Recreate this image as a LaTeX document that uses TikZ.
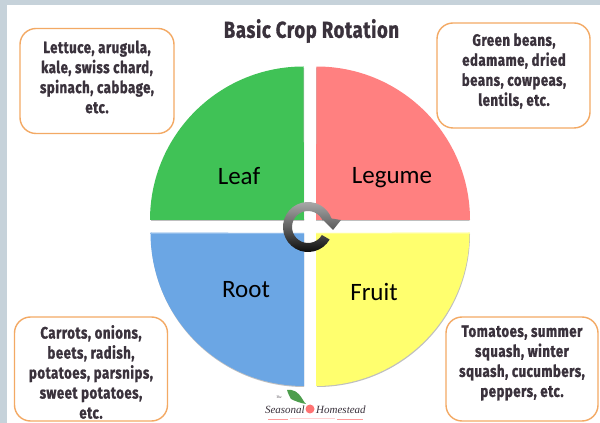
\documentclass[tikz,border=0pt]{standalone}
\usepackage{fontspec}
\setmainfont{Carlito}
\newfontfamily\handfont[FakeStretch=0.80,FakeBold=1.2,LetterSpace=3]{Fira Sans Bold}
\newfontfamily\logofont{Liberation Serif Italic}
\usetikzlibrary{calc}
\definecolor{pagebg}{HTML}{C6D2DA}
\definecolor{boxline}{HTML}{F3A964}
\definecolor{ink}{HTML}{3A323C}
\definecolor{leafc}{HTML}{40C256}
\definecolor{legc}{HTML}{FF8080}
\definecolor{rootc}{HTML}{6BA6E4}
\definecolor{fruitc}{HTML}{FFFF6E}
\tikzset{
 note/.style={draw=boxline,line width=1.4pt,rounded corners=16pt,fill=white,minimum width=#1,inner sep=0pt},
 notetext/.style={font=\handfont\fontsize{16.5}{20}\selectfont,text=ink,align=center,inner sep=0pt},
 sectorlabel/.style={font=\fontsize{25}{28}\selectfont,text=black,inner sep=0pt},
 shadowfill/.style={fill=black!45,opacity=.55}
}
\begin{document}
\begin{tikzpicture}[x=1pt,y=1pt]
\useasboundingbox (0,0) rectangle (600,423);
\fill[pagebg] (0,0) rectangle (600,423);
\fill[white] (7,0) rectangle (600,418);
% quadrants: shadows
\fill[shadowfill] (304,202) -- (151,202) arc (180:90:153) -- cycle;
\fill[shadowfill] (316,202) -- (469.5,202) arc (0:90:153.5) -- cycle;
\fill[shadowfill] (304,189) -- (304,36) arc (270:180:153) -- (151,189) -- cycle;
\fill[shadowfill] (316,189) -- (470,189) arc (0:-90:153) -- (316,189) -- cycle;
% quadrants
\fill[leafc] (304,203) -- (150,203) arc (180:90:153.5) -- cycle;
\fill[legc] (316,203) -- (470,203) arc (0:90:153.5) -- cycle;
\fill[rootc] (304,190) -- (304,37) arc (270:180:153.5) -- cycle;
\fill[fruitc] (316,190) -- (316,37) arc (270:360:153.5) -- cycle;
% top highlights on lower quadrants
\fill[rootc!75!white] (150,190) rectangle (304,188.5);
\fill[fruitc!75!white] (316,190) rectangle (469.5,188.5);
\node[sectorlabel] (leaf) at (239,247) {Leaf};
\node[sectorlabel] (legume) at (392,245) {Legume};
\node[sectorlabel] (root) at (246,133) {Root};
\node[sectorlabel] (fruit) at (374,131) {Fruit};
% rotation arrow
\coordinate (rc) at (308,196);
\shade[top color=black!30,bottom color=black,middle color=black!62,draw=none]
 ($(rc)+(-30:25)$) arc (-30:-340:25)
 -- (341,203) -- (333,193) -- (322,204)
 -- ($(rc)+(20:16)$) arc (-340:-30:16) -- cycle;
% title
\node[font=\handfont\fontsize{23}{26}\selectfont,text=ink,inner sep=0pt] (title) at (311.5,392) {Basic Crop Rotation};
% boxes
\node[note=154pt,minimum height=105pt] (b1) at (97,342) {};
\node[notetext] (t1) at (97,346) {Lettuce, arugula,\\kale, swiss chard,\\spinach, cabbage,\\etc.};
\node[note=153pt,minimum height=105pt] (b2) at (513.5,347.5) {};
\node[notetext] (t2) at (514,352) {Green beans,\\edamame, dried\\beans, cowpeas,\\lentils, etc.};
\node[note=153pt,minimum height=104pt] (b3) at (91,54) {};
\node[notetext] (t3) at (91,51) {Carrots, onions,\\beets, radish,\\potatoes, parsnips,\\sweet potatoes,\\etc.};
\node[note=152pt,minimum height=104pt] (b4) at (522,54) {};
\node[notetext] (t4) at (522,60) {Tomatoes, summer\\squash, winter\\squash, cucumbers,\\peppers, etc.};
% logo
\fill[green!45!black!70!white] (287,33) .. controls (292,34) and (298,32) .. (303,23) .. controls (304,21) and (305,20) .. (306,19) .. controls (300,20) and (295,22) .. (291,24) .. controls (289,27) and (288,30) .. (287,33) -- cycle;
\node[font=\logofont\fontsize{3.5}{4}\selectfont,inner sep=0pt,text=ink] (lthe) at (279,26) {The};
\node[font=\logofont\fontsize{11}{12}\selectfont,inner sep=0pt,text=ink,anchor=east] (l1) at (305,13) {Seasonal};
\node[font=\logofont\fontsize{11}{12}\selectfont,inner sep=0pt,text=ink,anchor=west] (l2) at (316,13) {Homestead};
\fill[red!55!white] (310,14) circle (4.5pt);
\draw[red!40!white,line width=.5pt] (268,4) -- (288,4) (337,4) -- (363,4);
\draw[red!18!white,line width=1pt] (290,4) -- (335,4);
\end{tikzpicture}
\end{document}
